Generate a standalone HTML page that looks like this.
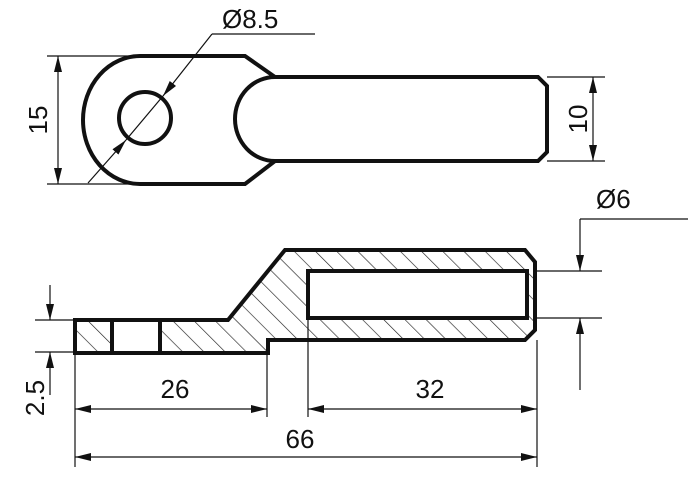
<!DOCTYPE html>
<html><head><style>html,body{margin:0;padding:0;background:#fff}svg{display:block}text{font-family:"Liberation Sans",sans-serif;font-size:26px;fill:#111}</style></head>
<body>
<svg width="700" height="500" viewBox="0 0 700 500" xmlns="http://www.w3.org/2000/svg">
<defs>
<marker id="a" viewBox="0 0 16 8" refX="16" refY="4" markerWidth="16" markerHeight="8" markerUnits="userSpaceOnUse" orient="auto"><path d="M0,0L16,4L0,8z" fill="#111"/></marker>
<pattern id="h" patternUnits="userSpaceOnUse" width="15" height="15" patternTransform="rotate(-45)"><line x1="0" y1="0" x2="0" y2="15" stroke="#222" stroke-width="1.3"/></pattern>
</defs>
<g fill="none" stroke="#111">
<path d="M140,56 L245,56 L275,77 L538,77 L547,86 L547,152 L538,161 L275,161 L245,184 L140,184 A57,64 0 0 1 140,56 Z" stroke-width="4"/>
<path d="M275,77 A40,42 0 0 0 275,161" stroke-width="4"/>
<circle cx="145" cy="118" r="26" stroke-width="4"/>
<path d="M75,320 L228,320 L285,250 L525,250 L535,262 L535,330 L525,340 L268,340 L268,353 L75,353 Z" fill="url(#h)" stroke-width="4"/>
<rect x="112" y="322" width="48" height="29" fill="#fff" stroke="none"/>
<line x1="112" y1="320" x2="112" y2="353" stroke-width="4"/>
<line x1="160" y1="320" x2="160" y2="353" stroke-width="4"/>
<path d="M308,271 L527,271 L527,318 L308,318 Z" fill="#fff" stroke-width="4"/>
<g stroke-width="1.2">
<line x1="47" y1="56" x2="140" y2="56"/><line x1="47" y1="184" x2="140" y2="184"/>
<line x1="58" y1="120" x2="58" y2="56" marker-end="url(#a)"/><line x1="58" y1="120" x2="58" y2="184" marker-end="url(#a)"/>
<line x1="315" y1="34" x2="212" y2="34"/><line x1="212" y1="34" x2="163" y2="96" marker-end="url(#a)"/>
<line x1="88" y1="183" x2="126" y2="140" marker-end="url(#a)"/><line x1="126" y1="140" x2="163" y2="96"/>
<line x1="547" y1="77" x2="605" y2="77"/><line x1="547" y1="161" x2="605" y2="161"/>
<line x1="593" y1="119" x2="593" y2="77" marker-end="url(#a)"/><line x1="593" y1="119" x2="593" y2="161" marker-end="url(#a)"/>
<line x1="688" y1="219" x2="580" y2="219"/><line x1="580" y1="219" x2="580" y2="271" marker-end="url(#a)"/>
<line x1="580" y1="390" x2="580" y2="318" marker-end="url(#a)"/>
<line x1="535" y1="271" x2="602" y2="271"/><line x1="535" y1="318" x2="602" y2="318"/>
<line x1="35" y1="320" x2="75" y2="320"/><line x1="35" y1="352" x2="75" y2="352"/>
<line x1="50" y1="285" x2="50" y2="320" marker-end="url(#a)"/><line x1="50" y1="395" x2="50" y2="352" marker-end="url(#a)"/>
<line x1="75" y1="353" x2="75" y2="467"/><line x1="267" y1="353" x2="267" y2="417"/>
<line x1="308" y1="318" x2="308" y2="417"/><line x1="537" y1="340" x2="537" y2="467"/>
<line x1="171" y1="409" x2="75" y2="409" marker-end="url(#a)"/><line x1="171" y1="409" x2="267" y2="409" marker-end="url(#a)"/>
<line x1="422" y1="409" x2="308" y2="409" marker-end="url(#a)"/><line x1="422" y1="409" x2="537" y2="409" marker-end="url(#a)"/>
<line x1="306" y1="457" x2="75" y2="457" marker-end="url(#a)"/><line x1="306" y1="457" x2="537" y2="457" marker-end="url(#a)"/>
</g>
</g>
<text x="222" y="28">Ø8.5</text>
<text x="596" y="208">Ø6</text>
<text x="175" y="398" text-anchor="middle">26</text>
<text x="430" y="398" text-anchor="middle">32</text>
<text x="300" y="448" text-anchor="middle">66</text>
<text transform="translate(47,120) rotate(-90)" text-anchor="middle">15</text>
<text transform="translate(587,119) rotate(-90)" text-anchor="middle">10</text>
<text transform="translate(44,398) rotate(-90)" text-anchor="middle">2.5</text>
</svg>
</body></html>
